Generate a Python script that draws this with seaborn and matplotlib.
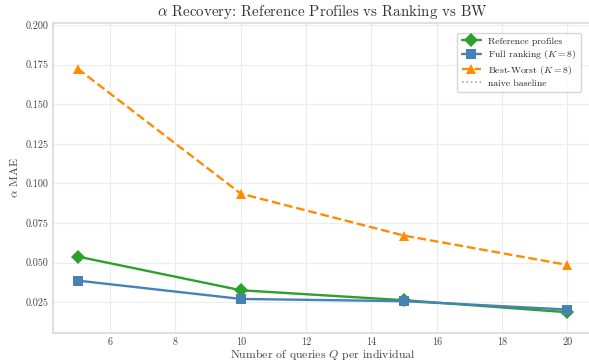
import numpy as np
import pandas as pd
import matplotlib
matplotlib.use("Agg")
import matplotlib.pyplot as plt
import seaborn as sns

# data
queries = [5, 10, 15, 20]
ref_profiles = [0.0538, 0.0325, 0.0262, 0.0186]
full_ranking = [0.0386, 0.0270, 0.0256, 0.0203]
best_worst = [0.1725, 0.0935, 0.0670, 0.0485]
naive_baseline = [0.25, 0.25, 0.25, 0.25]  # sits above the visible range

sns.set_theme(style="whitegrid")
plt.rcParams.update({
    "font.family": "serif",
    "font.serif": ["cmr10", "DejaVu Serif"],
    "mathtext.fontset": "cm",
    "axes.formatter.use_mathtext": True,
    "axes.edgecolor": "#d9d9d9",
    "axes.linewidth": 1.2,
    "grid.color": "#ececec",
    "grid.linewidth": 0.8,
})

df = pd.DataFrame({
    "Q": queries,
    "ref": ref_profiles,
    "full": full_ranking,
    "bw": best_worst,
    "naive": naive_baseline,
})

fig = plt.figure(figsize=(5.89, 3.64), dpi=100)
ax = fig.add_axes([0.0900, 0.0852, 0.9150, 0.8516])

sns.lineplot(data=df, x="Q", y="ref", ax=ax, color="#2ca02c", marker="D",
             markersize=7.5, linewidth=1.7, markeredgewidth=0,
             label="Reference profiles")
sns.lineplot(data=df, x="Q", y="full", ax=ax, color="#4682b4", marker="s",
             markersize=6.5, linewidth=1.7, markeredgewidth=0,
             label=r"Full ranking ($K=8$)")
sns.lineplot(data=df, x="Q", y="bw", ax=ax, color="#ff8c00", marker="^",
             markersize=7.5, linewidth=1.7, markeredgewidth=0,
             linestyle="--", label=r"Best-Worst ($K=8$)")
sns.lineplot(data=df, x="Q", y="naive", ax=ax, color="gray", linestyle=":",
             linewidth=1.2, alpha=0.7, label="naive baseline")

ax.set_xlim(4.25, 20.75)
ax.set_ylim(0.0055, 0.2013)
ax.set_xticks([6, 8, 10, 12, 14, 16, 18, 20])
ax.set_yticks([0.025, 0.05, 0.075, 0.1, 0.125, 0.15, 0.175, 0.2])
ax.xaxis.set_major_formatter(matplotlib.ticker.FormatStrFormatter("%d"))
ax.yaxis.set_major_formatter(matplotlib.ticker.FormatStrFormatter("%.3f"))
ax.tick_params(labelsize=7.3, colors="#444444", pad=3.5, length=0)

ax.set_xlabel(r"Number of queries $Q$ per individual", fontsize=8.5, color="#444444", labelpad=0)
ax.set_ylabel(r"$\alpha$ MAE", fontsize=8.5, color="#444444", labelpad=4)
ax.set_title(r"$\alpha$ Recovery: Reference Profiles vs Ranking vs BW", fontsize=10.8,
             color="#333333", pad=5)

leg = ax.legend(loc="upper right", bbox_to_anchor=(0.988, 0.985), fontsize=7,
                frameon=True, handlelength=2.0, handletextpad=0.7, borderpad=0.45,
                labelspacing=0.25)
leg.get_frame().set_edgecolor("#cccccc")

fig.savefig("out.png", dpi=100)
